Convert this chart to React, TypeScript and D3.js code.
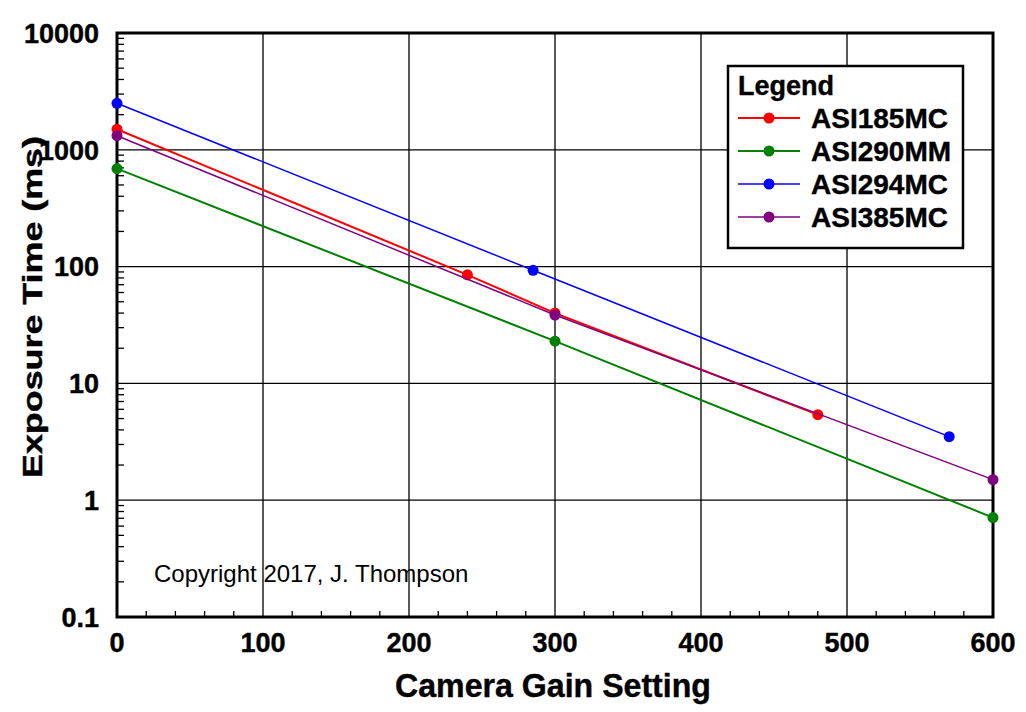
import React from "react";
import * as d3 from "d3";

type Pt = [number, number];

const gain185: Pt[] = [[0, 1500], [240, 85], [300, 40], [480, 5.4]];
const gain290: Pt[] = [[0, 690], [300, 23], [600, 0.71]];
const gain294: Pt[] = [[0, 2500], [285, 93], [570, 3.5]];
const gain385: Pt[] = [[0, 1320], [300, 38.5], [600, 1.5]];

const seriesNames = ["ASI185MC", "ASI290MM", "ASI294MC", "ASI385MC"];
const seriesColors = ["#ff0000", "#008000", "#0000ff", "#800080"];
const seriesWidths = [2, 2, 1.5, 1.5];
const seriesData = [gain185, gain290, gain294, gain385];

const xTicks = [0, 100, 200, 300, 400, 500, 600];
const yTicks = [0.1, 1, 10, 100, 1000, 10000];

const W = 1026;
const H = 712;
const FONT = "'Liberation Sans', Arial, sans-serif";

export default function App() {
  const x = d3.scaleLinear().domain([0, 600]).range([117, 993]);
  const y = d3.scaleLog().domain([0.1, 10000]).range([617, 33]);

  const line = d3
    .line<Pt>()
    .x((d) => x(d[0]))
    .y((d) => y(d[1]));

  const minorX = d3.range(20, 600, 20).filter((v) => v % 100 !== 0);
  const minorY: number[] = [];
  for (let dec = 0.1; dec < 10000; dec *= 10) {
    for (let m = 2; m <= 9; m++) minorY.push(dec * m);
  }

  const legendX = 728;
  const legendY = 66;

  return (
    <svg
      width={W}
      height={H}
      style={{ position: "absolute", left: 0, top: 0, background: "#fff" }}
      fontFamily={FONT}
    >
      {/* grid */}
      <g stroke="#000" strokeWidth={1.3}>
        {xTicks.slice(1, -1).map((v) => (
          <line key={"gx" + v} x1={x(v)} x2={x(v)} y1={33} y2={617} />
        ))}
        {yTicks.slice(1, -1).map((v) => (
          <line key={"gy" + v} x1={117} x2={993} y1={y(v)} y2={y(v)} />
        ))}
      </g>
      {/* minor ticks */}
      <g stroke="#000" strokeWidth={1.3}>
        {minorX.map((v) => (
          <line key={"mx" + v} x1={x(v)} x2={x(v)} y1={617} y2={611} />
        ))}
        {minorY.map((v, i) => (
          <line key={"my" + i} x1={117} x2={124} y1={y(v)} y2={y(v)} />
        ))}
      </g>
      {/* frame */}
      <rect x={117} y={33} width={876} height={584} fill="none" stroke="#000" strokeWidth={3} />

      {/* series */}
      {seriesData.map((data, i) => (
        <g key={seriesNames[i]}>
          <path d={line(data) ?? ""} fill="none" stroke={seriesColors[i]} strokeWidth={seriesWidths[i]} />
          {data.map((d, j) => (
            <circle key={j} cx={x(d[0])} cy={y(d[1])} r={5.5} fill={seriesColors[i]} />
          ))}
        </g>
      ))}

      {/* tick labels */}
      <g fontSize={27} fontWeight="bold" fill="#000" stroke="#000" strokeWidth={0.4}>
        {xTicks.map((v) => (
          <text key={"tx" + v} x={x(v)} y={652} textAnchor="middle">
            {v}
          </text>
        ))}
        {yTicks.map((v) => (
          <text key={"ty" + v} x={99} y={y(v)} dy="0.36em" textAnchor="end">
            {v}
          </text>
        ))}
      </g>

      {/* axis titles */}
      <g fontWeight="bold" stroke="#000" strokeWidth={0.4}>
        <text
          x={553}
          y={697}
          textAnchor="middle"
          fontSize={33}
          textLength={316}
          lengthAdjust="spacingAndGlyphs"
        >
          Camera Gain Setting
        </text>
        <text
          transform={`translate(42,307) rotate(-90)`}
          textAnchor="middle"
          fontSize={27}
          textLength={342}
          lengthAdjust="spacingAndGlyphs"
        >
          Exposure Time (ms)
        </text>
      </g>

      <text x={154} y={582} fontSize={24}>
        Copyright 2017, J. Thompson
      </text>

      {/* legend */}
      <g transform={`translate(${legendX},${legendY})`}>
        <rect x={0} y={0} width={235} height={182} fill="#fff" stroke="#000" strokeWidth={2.5} />
        <text x={10} y={29} fontSize={27} fontWeight="bold" stroke="#000" strokeWidth={0.4}>
          Legend
        </text>
        {seriesNames.map((name, i) => {
          const cy = 52 + i * 33;
          return (
            <g key={name}>
              <line x1={10} x2={72} y1={cy} y2={cy} stroke={seriesColors[i]} strokeWidth={seriesWidths[i]} />
              <circle cx={41} cy={cy} r={5.5} fill={seriesColors[i]} />
              <text
                x={83}
                y={cy}
                dy="0.36em"
                fontSize={28}
                fontWeight="bold"
                stroke="#000"
                strokeWidth={0.4}
              >
                {name}
              </text>
            </g>
          );
        })}
      </g>
    </svg>
  );
}
